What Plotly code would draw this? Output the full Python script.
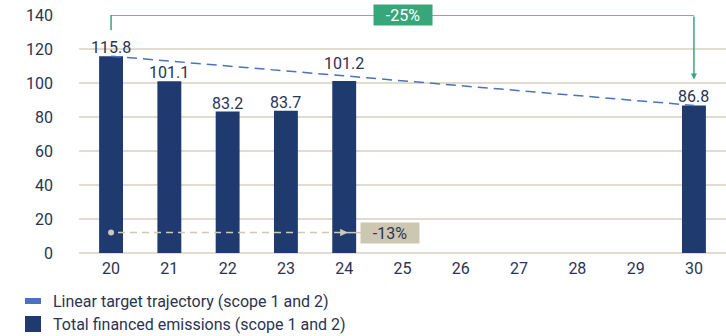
import plotly.graph_objects as go

# Years (20 = 2020 ... 30 = 2030) and financed emissions
years = [20, 21, 22, 23, 24, 25, 26, 27, 28, 29, 30]
emission_years = [20, 21, 22, 23, 24, 30]
emissions = [115.8, 101.1, 83.2, 83.7, 101.2, 86.8]
target_years = [20, 30]
target_values = [115.8, 86.8]
y_ticks = [0, 20, 40, 60, 80, 100, 120, 140]

legend_labels = [
    "Linear target trajectory (scope 1 and 2)",
    "Total financed emissions (scope 1 and 2)",
]

# Styling
FONT = "Roboto"
TEXT = "#2b3353"
BAR = "#1f3a6e"
TREND = "#4a72c0"
GRID = "#e2dccf"
GREEN = "#38a67b"
SAND = "#cdc6b1"
SAND_LINE = "#cfc8b6"

# Pixel layout of the plotting area
L, R, T, B = 79, 0, 15, 83
W, H = 726, 336
PW, PH = W - L - R, H - T - B


def px_x(p):
    return (p - L) / PW


def px_y(p):
    return (H - B - p) / PH


fig = go.Figure()

# Emission bars
fig.add_trace(go.Bar(
    x=emission_years, y=emissions, width=0.41,
    marker=dict(color=BAR, line=dict(width=0)),
    showlegend=False, hoverinfo="skip",
))

# Linear target trajectory
fig.add_trace(go.Scatter(
    x=target_years, y=target_values, mode="lines",
    line=dict(color=TREND, width=1.5, dash="10px,6px"),
    showlegend=False, hoverinfo="skip",
))

# Value labels above bars (2024 label lifted clear of the trajectory)
label_lift = {24: 9}
annotations = []
for yr, v in zip(emission_years, emissions):
    annotations.append(dict(
        x=yr, y=v, xref="x", yref="y", text=f"{v:.1f}", showarrow=False,
        yanchor="bottom", yshift=-3 + label_lift.get(yr, 0),
        font=dict(family=FONT, size=16, color=TEXT),
    ))

shapes = []

# Green bracket: 2020 -> 2030 reduction
bracket_top = 140
shapes.append(dict(
    type="path", xref="x", yref="y",
    path=f"M {emission_years[0]},131 L {emission_years[0]},{bracket_top} L {emission_years[-1]},{bracket_top}",
    line=dict(color=GREEN, width=1.5),
))
annotations.append(dict(
    x=emission_years[-1], y=102, ax=emission_years[-1], ay=bracket_top,
    xref="x", yref="y", axref="x", ayref="y", text="", showarrow=True,
    arrowhead=2, arrowsize=0.8, arrowwidth=1.5, arrowcolor=GREEN, standoff=0,
))
pct_total = round((emissions[-1] / emissions[0] - 1) * 100)
annotations.append(dict(
    x=25, y=bracket_top, xref="x", yref="y", text=f"{pct_total}%",
    showarrow=False, bgcolor=GREEN, width=57, height=19, borderpad=0.5,
    font=dict(family=FONT, size=16, color="white"),
))

# Grey marker: 2020 -> 2024 change
grey_y = 12
fig.add_trace(go.Scatter(
    x=[emission_years[0]], y=[grey_y], mode="markers",
    marker=dict(color=SAND_LINE, size=6), showlegend=False, hoverinfo="skip",
))
shapes.append(dict(
    type="line", xref="x", yref="y", x0=20.12, x1=23.95, y0=grey_y, y1=grey_y,
    line=dict(color=SAND_LINE, width=1.5, dash="7px,5px"),
))
shapes.append(dict(
    type="line", xref="x", yref="y", x0=23.95, x1=24.3, y0=grey_y, y1=grey_y,
    line=dict(color=SAND_LINE, width=1.5),
))
annotations.append(dict(
    x=24.06, y=grey_y, ax=23.9, ay=grey_y,
    xref="x", yref="y", axref="x", ayref="y", text="", showarrow=True,
    arrowhead=2, arrowsize=1, arrowwidth=1.5, arrowcolor=SAND_LINE, standoff=0,
))
pct_recent = round((emissions[4] / emissions[0] - 1) * 100)
annotations.append(dict(
    x=24.79, y=grey_y, xref="x", yref="y", text=f"{pct_recent}%",
    showarrow=False, bgcolor=SAND, width=57, height=19, borderpad=0.5,
    font=dict(family=FONT, size=16, color=TEXT),
))

# Legend drawn as shapes and text
shapes.append(dict(
    type="rect", xref="paper", yref="paper",
    x0=px_x(25), x1=px_x(41), y0=px_y(304), y1=px_y(298),
    fillcolor=TREND, line=dict(width=0),
))
shapes.append(dict(
    type="rect", xref="paper", yref="paper",
    x0=px_x(25), x1=px_x(41), y0=px_y(332), y1=px_y(316),
    fillcolor=BAR, line=dict(width=0),
))
for label, cy in zip(legend_labels, [301, 324]):
    annotations.append(dict(
        x=px_x(51), y=px_y(cy), xref="paper", yref="paper", text=label,
        showarrow=False, xanchor="left", yanchor="middle",
        font=dict(family=FONT, size=16, color=TEXT),
    ))

fig.update_layout(
    width=W, height=H,
    margin=dict(l=L, r=R, t=T, b=B, pad=0),
    paper_bgcolor="white", plot_bgcolor="white",
    font=dict(family=FONT, size=16, color=TEXT),
    shapes=shapes, annotations=annotations,
    showlegend=False,
    xaxis=dict(
        range=[19.45, 30.55], tickmode="array", tickvals=years,
        ticktext=[str(y) for y in years], showgrid=False, zeroline=False,
        showline=False, ticks="", ticklabelstandoff=4, fixedrange=True,
        tickfont=dict(family=FONT, size=16, color=TEXT),
    ),
    yaxis=dict(
        range=[0, 140], tickmode="array", tickvals=y_ticks,
        showgrid=True, gridcolor=GRID, gridwidth=1.5,
        zeroline=True, zerolinecolor=GRID, zerolinewidth=1.5,
        showline=False, ticks="", ticklabelstandoff=25, fixedrange=True,
        tickfont=dict(family=FONT, size=16, color=TEXT),
    ),
)

fig.write_html("out.html")
